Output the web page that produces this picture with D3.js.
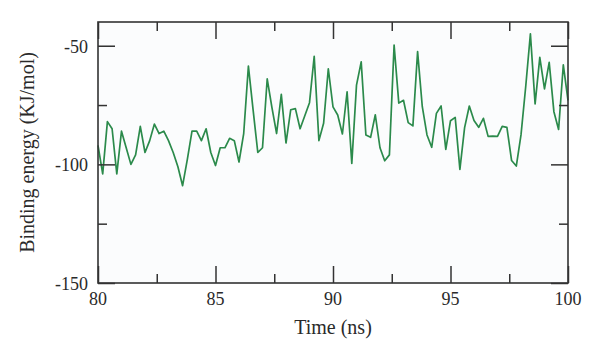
<!DOCTYPE html>
<html>
<head>
<meta charset="utf-8">
<script src="https://cdn.jsdelivr.net/npm/d3@7"></script>
<style>
  html, body { margin: 0; padding: 0; background: #ffffff; }
  svg { display: block; }
  text { font-family: "Liberation Serif", "DejaVu Serif", serif; fill: #2a2a2a; }
</style>
</head>
<body>
<svg id="chart" width="600" height="359"></svg>
<script>
// ---- data ----
const tStart = 80;
const tStep = 0.2;
const bindingEnergy = [
  -92, -104, -82, -85, -104, -86, -93, -100, -96, -84,
  -95, -90, -83, -87, -86, -90, -95, -101, -109, -98,
  -86, -86, -90, -85, -95, -100.5, -93, -93, -89, -90,
  -99, -87, -58.6, -77, -95, -93, -64, -76, -87, -70.5,
  -91, -77, -76.5, -85, -79.5, -74, -54.5, -90, -82.7, -59.7,
  -75.8, -79.2, -87.2, -69.4, -99.6, -66.6, -56.8, -87.6, -88.6, -79.1,
  -93, -98.5, -96, -49.7, -74.2, -73, -82.4, -83.8, -52.5, -75.7,
  -87.6, -92.8, -78.5, -75.4, -93.7, -81.6, -80.2, -102.1, -84.5, -75.4,
  -81.5, -84.4, -80.6, -88.2, -88.1, -88.2, -84, -84.4, -98.4, -100.7,
  -87.6, -67.3, -45, -74.5, -54.9, -68.2, -57, -77.8, -85.3, -58.1,
  -73
];
const xMajorTicks = [80, 85, 90, 95, 100];
const xMinorTicks = [82.5, 87.5, 92.5, 97.5];
const yMajorTicks = [-150, -100, -50];
const yMinorTicks = [-125, -75];
const xDomain = [80, 100];
const yDomain = [-150, -40];
const xTitle = "Time (ns)";
const yTitle = "Binding energy (KJ/mol)";

// ---- layout ----
const svg = d3.select("#chart");
const L = 98, R = 568, T = 22, B = 283;
const x = d3.scaleLinear().domain(xDomain).range([L, R]);
const y = d3.scaleLinear().domain(yDomain).range([B, T]);

const points = bindingEnergy.map((v, i) => ({ t: tStart + i * tStep, v }));

// plot background
svg.append("rect")
  .attr("x", L).attr("y", T).attr("width", R - L).attr("height", B - T)
  .attr("fill", "#fbfcfd");

// line
const line = d3.line().x(d => x(d.t)).y(d => y(d.v));
svg.append("path")
  .datum(points)
  .attr("d", line)
  .attr("fill", "none")
  .attr("stroke", "#2b8a4b")
  .attr("stroke-width", 1.7)
  .attr("stroke-linejoin", "round");

// axes (ticks inward on all four sides)
const tickColor = "#333";
const majorLen = 17, minorLen = 9;

function addAxis(axisFn, scale, transform, values, len) {
  const g = svg.append("g").attr("transform", transform)
    .call(axisFn(scale).tickValues(values).tickSizeInner(-len).tickSizeOuter(0).tickFormat(""));
  g.select(".domain").remove();
  g.selectAll("line").attr("stroke", tickColor).attr("stroke-width", 1.5);
  return g;
}
addAxis(d3.axisBottom, x, `translate(0,${B})`, xMajorTicks, majorLen);
addAxis(d3.axisBottom, x, `translate(0,${B})`, xMinorTicks, minorLen);
addAxis(d3.axisTop, x, `translate(0,${T})`, xMajorTicks, majorLen);
addAxis(d3.axisTop, x, `translate(0,${T})`, xMinorTicks, minorLen);
addAxis(d3.axisLeft, y, `translate(${L},0)`, yMajorTicks, majorLen);
addAxis(d3.axisLeft, y, `translate(${L},0)`, yMinorTicks, minorLen);
addAxis(d3.axisRight, y, `translate(${R},0)`, yMajorTicks, majorLen);
addAxis(d3.axisRight, y, `translate(${R},0)`, yMinorTicks, minorLen);

// frame
svg.append("rect")
  .attr("x", L).attr("y", T).attr("width", R - L).attr("height", B - T)
  .attr("fill", "none").attr("stroke", tickColor).attr("stroke-width", 1.6);

// tick labels
svg.append("g").selectAll("text").data(xMajorTicks).join("text")
  .attr("x", d => x(d)).attr("y", 305)
  .attr("text-anchor", "middle")
  .attr("font-size", 18)
  .text(d => d);

svg.append("g").selectAll("text").data(yMajorTicks).join("text")
  .attr("x", 88).attr("y", d => y(d) + 7)
  .attr("text-anchor", "end")
  .attr("font-size", 18)
  .text(d => d);

// titles
svg.append("text")
  .attr("x", (L + R) / 2).attr("y", 334)
  .attr("text-anchor", "middle")
  .attr("font-size", 20)
  .text(xTitle);

svg.append("text")
  .attr("transform", `translate(34,${(T + B) / 2}) rotate(-90)`)
  .attr("text-anchor", "middle")
  .attr("font-size", 20)
  .text(yTitle);
</script>
</body>
</html>
